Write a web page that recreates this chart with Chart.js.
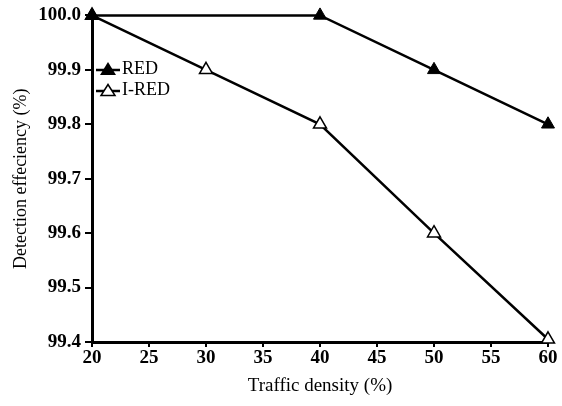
<!DOCTYPE html>
<html>
<head>
<meta charset="utf-8">
<script src="https://cdn.jsdelivr.net/npm/chart.js@4"></script>
<style>
  body { margin: 0; background: #fff; }
  #wrap { position: relative; width: 562px; height: 406px; }
  #legend { position: absolute; left: 96px; top: 58px; font-family: "Liberation Serif", serif; font-size: 18px; color: #000; }
  #legend div { display: flex; align-items: center; height: 21px; }
  #legend svg { margin-right: 2px; }
</style>
</head>
<body>
<div id="wrap">
  <canvas id="chart" width="562" height="406"></canvas>
  <div id="legend">
    <div><svg width="24" height="14"><line x1="0" y1="8" x2="24" y2="8" stroke="#000" stroke-width="2.5"/><polygon points="12,0 20,13 4,13" fill="#000"/></svg>RED</div>
    <div><svg width="24" height="14"><line x1="0" y1="8" x2="24" y2="8" stroke="#000" stroke-width="2.5"/><polygon points="12,1.5 19,12.5 5,12.5" fill="#fff" stroke="#000" stroke-width="1.5"/></svg>I-RED</div>
  </div>
</div>
<script>
// Values
const redX = [20, 40, 50, 60];
const redY = [100.0, 100.0, 99.9, 99.8];
const iredX = [20, 30, 40, 50, 60];
const iredY = [100.0, 99.9, 99.8, 99.6, 99.405];
const xTicks = [20, 25, 30, 35, 40, 45, 50, 55, 60];
const yTicks = [99.4, 99.5, 99.6, 99.7, 99.8, 99.9, 100.0];

const serif = '"Liberation Serif", "Times New Roman", serif';

function toPoints(xs, ys) {
    return xs.map((x, i) => ({ x: x, y: ys[i] }));
}

new Chart(document.getElementById('chart').getContext('2d'), {
    type: 'line',
    data: {
        datasets: [{
            label: 'RED',
            data: toPoints(redX, redY),
            borderColor: '#000',
            borderWidth: 2.5,
            pointStyle: 'triangle',
            pointRadius: 7.5,
            pointBackgroundColor: '#000',
            pointBorderColor: '#000',
            pointBorderWidth: 1,
            clip: false
        }, {
            label: 'I-RED',
            data: toPoints(iredX, iredY),
            borderColor: '#000',
            borderWidth: 2.5,
            pointStyle: 'triangle',
            pointRadius: 7.5,
            pointBackgroundColor: '#fff',
            pointBorderColor: '#000',
            pointBorderWidth: 1.5,
            clip: false
        }]
    },
    options: {
        responsive: false,
        animation: false,
        layout: { padding: { top: 15, right: 14, left: 0, bottom: 0 } },
        plugins: { legend: { display: false }, tooltip: { enabled: false } },
        scales: {
            x: {
                type: 'linear',
                min: 20, max: 60,
                afterBuildTicks: s => { s.ticks = xTicks.map(v => ({ value: v })); },
                afterFit: s => { s.height = 64; },
                border: { color: '#000', width: 3 },
                grid: { drawOnChartArea: false, color: '#000', lineWidth: 2, tickLength: 5 },
                ticks: { color: '#000', font: { family: serif, size: 19, weight: 'bold' }, padding: 0 },
                title: { display: true, text: 'Traffic density (%)', color: '#000', font: { family: serif, size: 19 }, padding: { top: 0, bottom: 9 } }
            },
            y: {
                min: 99.4, max: 100.0,
                afterBuildTicks: s => { s.ticks = yTicks.map(v => ({ value: v })); },
                afterFit: s => { s.width = 92; },
                border: { color: '#000', width: 3 },
                grid: { drawOnChartArea: false, color: '#000', lineWidth: 2, tickLength: 7 },
                ticks: { color: '#000', font: { family: serif, size: 19, weight: 'bold' }, padding: 4, callback: v => v.toFixed(1) },
                title: { display: true, text: 'Detection effeciency (%)', color: '#000', font: { family: serif, size: 18 }, padding: { top: 10, bottom: 0 } }
            }
        }
    }
});
</script>
</body>
</html>
